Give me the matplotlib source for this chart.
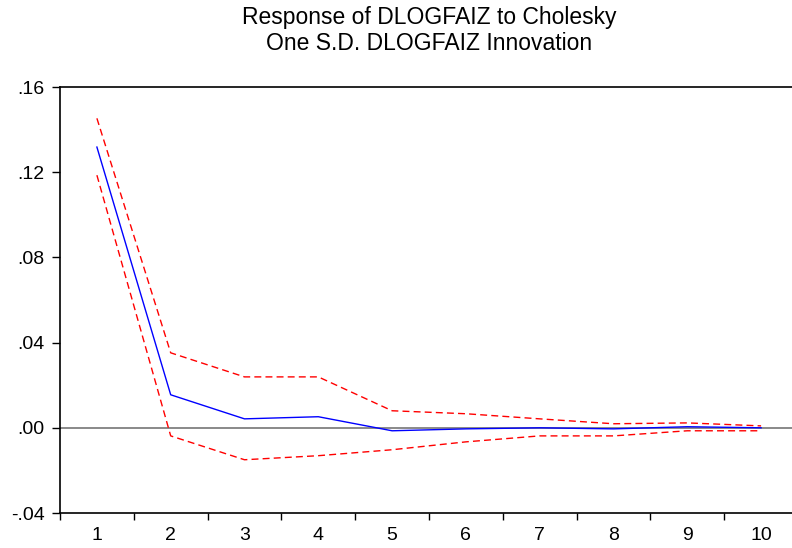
import numpy as np
import matplotlib
matplotlib.use("Agg")
import matplotlib.pyplot as plt
from matplotlib.ticker import FixedLocator, FuncFormatter

plt.rcParams['font.family'] = ['Liberation Sans', 'DejaVu Sans']

# --- DATA ---
periods = [1, 2, 3, 4, 5, 6, 7, 8, 9, 10]
response = [0.1318, 0.0155, 0.0042, 0.0052, -0.0014, -0.0005, 0.0000, -0.0005, 0.0005, 0.0000]
upper = [0.1453, 0.0352, 0.0239, 0.0239, 0.0080, 0.0066, 0.0042, 0.0019, 0.0023, 0.0009]
lower = [0.1186, -0.0038, -0.0150, -0.0131, -0.0103, -0.0066, -0.0038, -0.0038, -0.0014, -0.0014]
yticks = [-0.04, 0.00, 0.04, 0.08, 0.12, 0.16]
title_lines = ["Response of DLOGFAIZ to Cholesky", "One S.D. DLOGFAIZ Innovation"]

# --- PLOT ---
fig = plt.figure(figsize=(7.92, 5.48), dpi=100)
ax = fig.add_axes([60/792, 1 - 513/548, 738/792, 426/548])

ax.axhline(0, color='#808080', lw=1.3, zorder=1)
ax.plot(periods, response, color='blue', lw=1.0, zorder=3)
ax.plot(periods, upper, color='red', lw=1.0, ls=(0, (5, 3)), zorder=2)
ax.plot(periods, lower, color='red', lw=1.0, ls=(0, (5, 3)), zorder=2)

ax.set_xlim(0.5, 10.5)
ax.set_ylim(-0.04, 0.16)
ax.set_xticks(periods)
ax.set_xticklabels([str(p) for p in periods])
ax.xaxis.set_minor_locator(FixedLocator(np.arange(0.5, 11, 1)))
ax.tick_params(axis='x', which='major', length=0, pad=10, labelsize=14)
ax.tick_params(axis='x', which='minor', length=5, width=1, direction='out')
ax.set_yticks(yticks)
ax.yaxis.set_major_formatter(FuncFormatter(lambda v, p: ('%.2f' % v).replace('0.', '.') if abs(v) > 1e-9 else '.00'))
ax.tick_params(axis='y', length=6, width=1, direction='out', labelsize=14, pad=5)

for s in ['left', 'bottom', 'top']:
    ax.spines[s].set_linewidth(1.2)
ax.spines['right'].set_visible(False)

cx = 429 / 792
fig.text(cx, 1 - 24/548, title_lines[0], fontsize=16.5, ha='center', va='baseline')
fig.text(cx, 1 - 50/548, title_lines[1], fontsize=16.5, ha='center', va='baseline')

fig.savefig('out.png', dpi=100)
